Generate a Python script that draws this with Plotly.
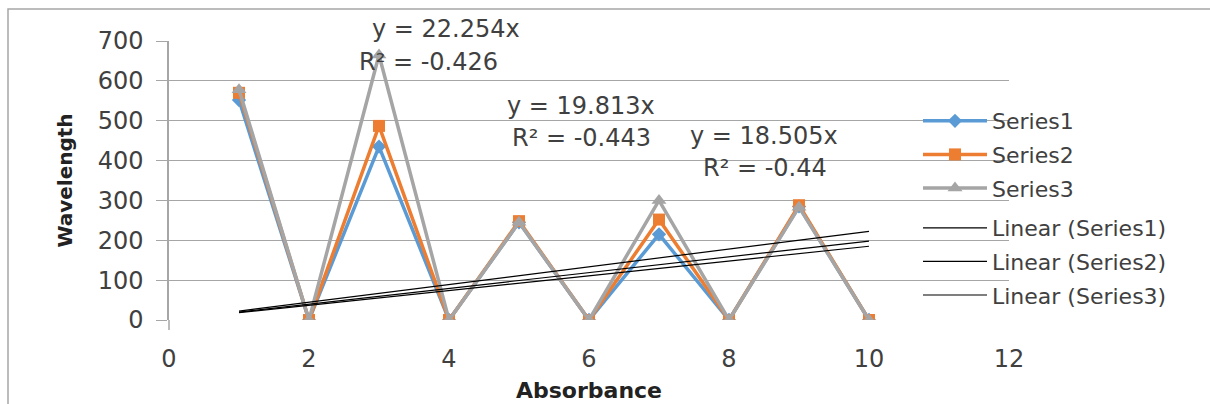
import plotly.graph_objects as go

# ---- data ----
absorbance = [1, 2, 3, 4, 5, 6, 7, 8, 9, 10]
series1 = [552, 0, 435, 0, 245, 0, 215, 0, 285, 0]
series2 = [570, 0, 487, 0, 248, 0, 252, 0, 288, 0]
series3 = [578, 0, 665, 0, 245, 0, 300, 0, 283, 0]
series_names = ["Series1", "Series2", "Series3"]
trend_slopes = [18.505, 19.813, 22.254]
trend_r2 = ["-0.44", "-0.443", "-0.426"]
x_ticks = [0, 2, 4, 6, 8, 10, 12]
y_ticks = [0, 100, 200, 300, 400, 500, 600, 700]

FONT = "DejaVu Sans"
TXT = "#404040"
GRID = "#A6A6A6"

# pixel geometry helpers (plot area: x 169..1009, y 41..320)
L, R, T, B = 169, 1009, 41, 320
W, H = 1210, 404
def paper_x(p):
    return (p - L) / (R - L)
def paper_y(p):
    return (B - p) / (B - T)

fig = go.Figure()
colors = ["#5B9BD5", "#ED7D31", "#A5A5A5"]
symbols = ["diamond", "square", "triangle-up"]
sizes = [11, 12, 13]
for i, ys in enumerate([series1, series2, series3]):
    fig.add_trace(go.Scatter(
        x=absorbance, y=ys, mode="lines+markers", name=series_names[i],
        line=dict(color=colors[i], width=3.5),
        marker=dict(symbol=symbols[i], size=sizes[i], color=colors[i]),
        legend="legend", legendgroup=f"s{i}", legendrank=i + 1,
    ))

tx = [absorbance[0], absorbance[-1]]
for i, s in enumerate(trend_slopes):
    fig.add_trace(go.Scatter(
        x=tx, y=[s * v for v in tx], mode="lines",
        name=f"Linear ({series_names[i]})",
        line=dict(color="black", width=1.2),
        legend="legend2", legendgroup=f"t{i}", legendrank=10 + i,
    ))

# trendline equation labels (left pixel, center pixel y)
label_pos = {2: [(370, 29), (357, 62)], 1: [(505, 106), (510, 138)], 0: [(688, 136), (701, 168)]}
annotations = []
for i, s in enumerate(trend_slopes):
    (lx1, ly1), (lx2, ly2) = label_pos[i]
    annotations.append(dict(x=paper_x(lx1), y=paper_y(ly1), xref="paper", yref="paper", xanchor="left", yanchor="middle",
                            text=f"y = {s}x", showarrow=False, font=dict(family=FONT, size=24, color=TXT)))
    annotations.append(dict(x=paper_x(lx2), y=paper_y(ly2), xref="paper", yref="paper", xanchor="left", yanchor="middle",
                            text=f"R² = {trend_r2[i]}", showarrow=False, font=dict(family=FONT, size=24, color=TXT)))

shapes = [
    dict(type="rect", xref="paper", yref="paper", x0=paper_x(8), y0=paper_y(430), x1=paper_x(1240), y1=paper_y(9),
         line=dict(color=GRID, width=1.5), layer="below"),
    dict(type="line", xref="paper", yref="paper", x0=0, x1=0, y0=paper_y(330), y1=0,
         line=dict(color=GRID, width=1.5)),
]

legend_common = dict(xanchor="left", yanchor="top", font=dict(family=FONT, size=22, color=TXT),
                     itemwidth=64, tracegroupgap=2, bgcolor="rgba(0,0,0,0)")

fig.update_layout(
    width=W, height=H,
    margin=dict(l=L, r=W - R, t=T, b=H - B),
    paper_bgcolor="white", plot_bgcolor="white",
    font=dict(family=FONT, size=24, color=TXT),
    showlegend=True,
    legend=dict(x=paper_x(918), y=paper_y(100), **legend_common),
    legend2=dict(x=paper_x(918), y=paper_y(207), **legend_common),
    xaxis=dict(range=[0, 12], tickvals=x_ticks, ticktext=[str(v) for v in x_ticks],
               showgrid=False, zeroline=False, showline=False, ticks="", automargin=False,
               tickfont=dict(family=FONT, size=24, color=TXT), ticklabelstandoff=22,
               title=dict(text="<b>Absorbance</b>", font=dict(family=FONT, size=22, color="#222"), standoff=10)),
    yaxis=dict(range=[0, 700], tickvals=y_ticks, ticktext=[str(v) for v in y_ticks], automargin=False,
               showgrid=True, gridcolor=GRID, gridwidth=1.2, zeroline=False,
               showline=True, linecolor=GRID, linewidth=1.5,
               ticks="outside", ticklen=11, tickcolor=GRID, tickwidth=1.2,
               tickfont=dict(family=FONT, size=24, color=TXT), ticklabelstandoff=8,
               title=dict(text="<b>Wavelength</b>", font=dict(family=FONT, size=20, color="#222"), standoff=20)),
    annotations=annotations,
    shapes=shapes,
)

fig.write_html("out.html")
